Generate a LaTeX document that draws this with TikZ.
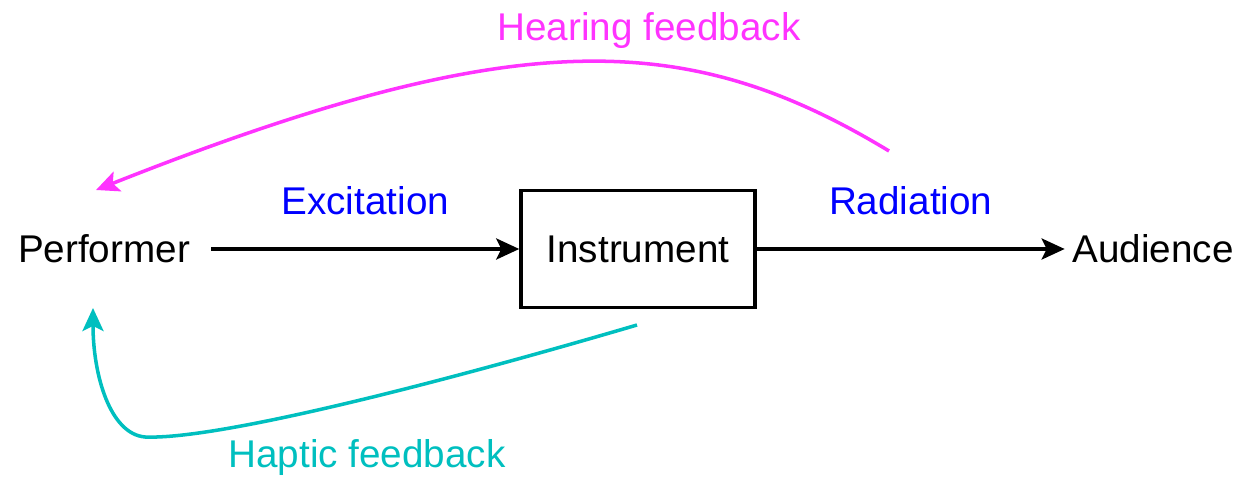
\documentclass[tikz,border=0pt]{standalone}
\usepackage{fontspec}
\setmainfont{Liberation Sans}
\usetikzlibrary{positioning, arrows.meta}
\definecolor{hearcol}{RGB}{255,51,255}
\definecolor{hapcol}{RGB}{0,191,191}
\tikzset{
  txt/.style={font=\fontsize{22}{26}\selectfont, inner sep=0pt},
  block/.style={
    rectangle, draw=black, line width=2pt,
    minimum width=4.68cm, minimum height=2.34cm,
    font=\fontsize{22}{26}\selectfont
  },
  arrow/.style={
    line width=2pt,
    -{Stealth[length=0.46cm,width=0.42cm,inset=0.1cm]}
  }
}

\begin{document}
\begin{tikzpicture}[x=0.02cm, y=-0.02cm]

\useasboundingbox (0,0) rectangle (1245,479);

% ------------------------------------------------
% nodes
% ------------------------------------------------

% Performer
\node[txt, minimum width=4.28cm] (perf) at (104,249) {Performer};

% Instrument
\node[block] (inst) at (638,249) {Instrument};

% Audience
\node[txt, minimum width=3.52cm] (aud) at (1153,249) {Audience};

% ends of the curved arrows
\coordinate (hearStart) at (889,151);
\coordinate (hearEnd) at (96,190);
\coordinate (hapStart) at (637,325);
\coordinate (hapBend) at (145,437);
\coordinate (hapEnd) at (93,308);

% ------------------------------------------------
% arrows
% ------------------------------------------------

\draw[arrow] (perf) -- node[txt, text=blue, midway, above=0.64cm] {Excitation} (inst);
\draw[arrow] (inst) -- node[txt, text=blue, midway, above=0.64cm] {Radiation} (aud);

% hearing feedback
\draw[arrow, hearcol] (hearStart) .. controls (689,30) and (520,22) .. (hearEnd);
\node[txt, text=hearcol] (hearLbl) at (649,31) {Hearing feedback};

% haptic feedback
\draw[arrow, hapcol] (hapStart) .. controls (450,380) and (220,440) .. (hapBend)
  .. controls (110,434) and (93,375) .. (hapEnd);
\node[txt, text=hapcol] (hapLbl) at (367,458) {Haptic feedback};

\end{tikzpicture}
\end{document}
